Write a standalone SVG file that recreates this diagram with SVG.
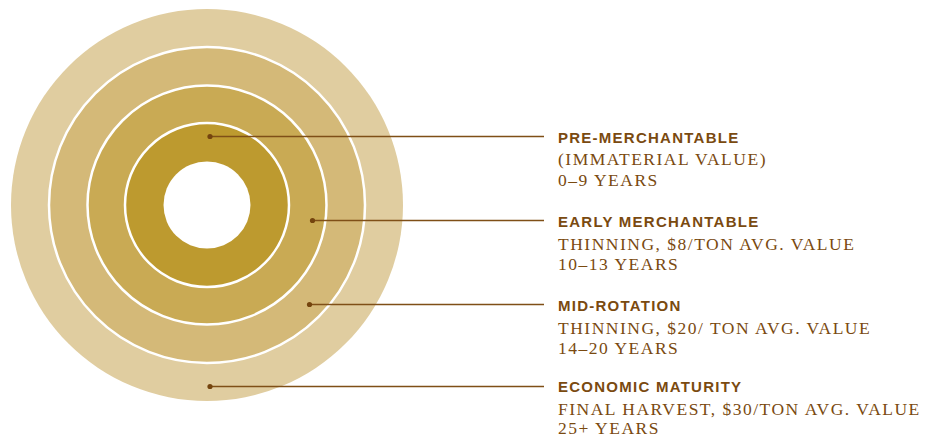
<svg xmlns="http://www.w3.org/2000/svg" width="928" height="440" viewBox="0 0 928 440">
<style>
.ring{stroke:#ffffff;stroke-width:2.5}
.lead{stroke:#7f4f17;stroke-width:1.5;fill:none}
.dot{fill:#74440e}
.t{font-family:"Liberation Sans",Arial,sans-serif;font-weight:bold;font-size:15px;letter-spacing:1.25px;fill:#7a4a10}
.s{font-family:"Liberation Serif","Times New Roman",serif;font-size:17.5px;letter-spacing:1.5px;fill:#7a4a10}
</style>
<rect width="928" height="440" fill="#ffffff"/>
<g id="rings">
<circle cx="207" cy="205" r="196" fill="#e0cda0"/>
<circle class="ring" cx="207" cy="205" r="158" fill="#d4b978"/>
<circle class="ring" cx="207" cy="205" r="119.5" fill="#c9aa54"/>
<circle class="ring" cx="207" cy="205" r="82" fill="#bd9a2f"/>
<circle cx="207" cy="205" r="43.5" fill="#ffffff"/>
</g>
<g id="connectors">
<line class="lead" x1="210" y1="136.5" x2="544" y2="136.5"/>
<circle class="dot" cx="210" cy="136.5" r="2.6"/>
<line class="lead" x1="312.5" y1="220.5" x2="544" y2="220.5"/>
<circle class="dot" cx="312.5" cy="220.5" r="2.6"/>
<line class="lead" x1="309.5" y1="304.5" x2="544" y2="304.5"/>
<circle class="dot" cx="309.5" cy="304.5" r="2.6"/>
<line class="lead" x1="210" y1="386.5" x2="544" y2="386.5"/>
<circle class="dot" cx="210" cy="386.5" r="2.6"/>
</g>
<g id="label-pre-merchantable">
<text class="t" x="558" y="143">PRE-MERCHANTABLE</text>
<text class="s" x="558" y="165">(IMMATERIAL VALUE)</text>
<text class="s" x="558" y="185.5">0–9 YEARS</text>
</g>
<g id="label-early-merchantable">
<text class="t" x="558" y="227">EARLY MERCHANTABLE</text>
<text class="s" x="558" y="249.5">THINNING, $8/TON AVG. VALUE</text>
<text class="s" x="558" y="269.5">10–13 YEARS</text>
</g>
<g id="label-mid-rotation">
<text class="t" x="558" y="311">MID-ROTATION</text>
<text class="s" x="558" y="333.5">THINNING, $20/ TON AVG. VALUE</text>
<text class="s" x="558" y="354">14–20 YEARS</text>
</g>
<g id="label-economic-maturity">
<text class="t" x="558" y="392">ECONOMIC MATURITY</text>
<text class="s" x="558" y="414.5">FINAL HARVEST, $30/TON AVG. VALUE</text>
<text class="s" x="558" y="434">25+ YEARS</text>
</g>
</svg>
